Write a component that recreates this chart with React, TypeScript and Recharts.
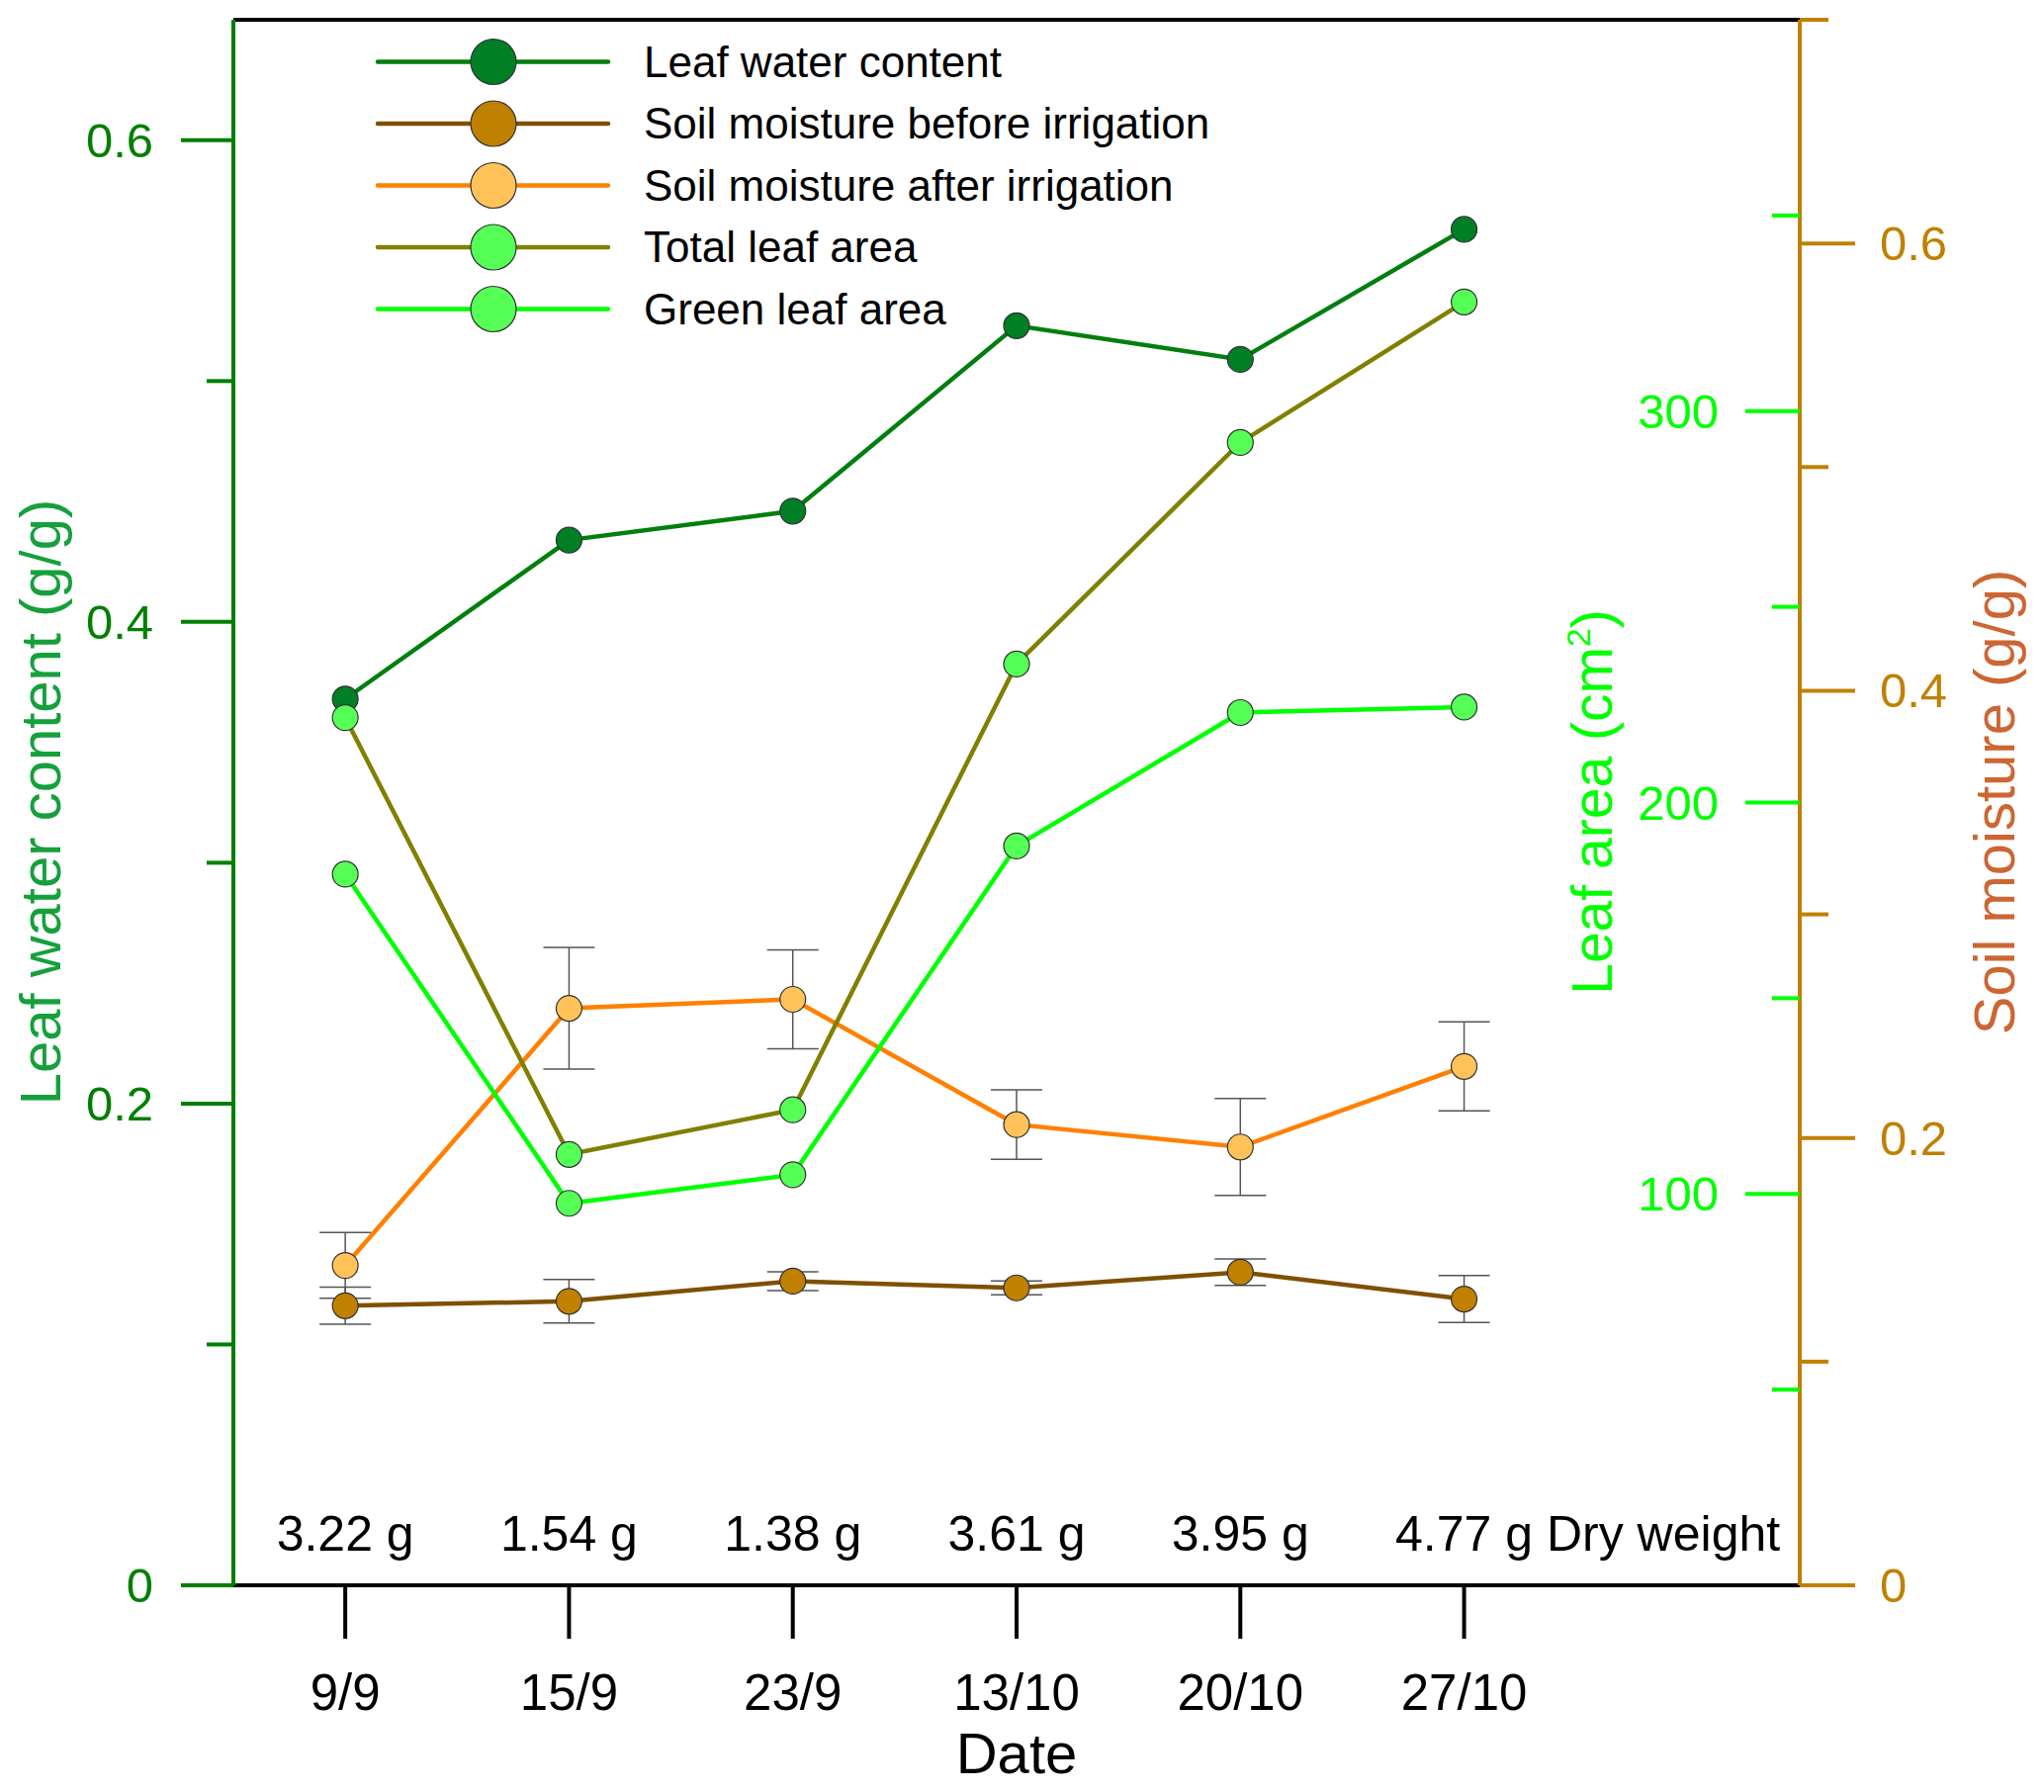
import React from "react";
import {
  LineChart,
  Line,
  XAxis,
  YAxis,
  ErrorBar,
  ReferenceLine,
  Legend,
} from "recharts";

// sampling dates and dry weight written above each date
const dates = ["9/9", "15/9", "23/9", "13/10", "20/10", "27/10"];
const dryWeight = ["3.22 g", "1.54 g", "1.38 g", "3.61 g", "3.95 g", "4.77 g"];

// leaf water content (g/g), left axis
const leafWater = [0.368, 0.434, 0.446, 0.523, 0.509, 0.563];

// soil moisture (g/g), right axis, with error
const soilBefore = [0.125, 0.127, 0.136, 0.133, 0.14, 0.128];
const soilBeforeErr = [0.0083, 0.0097, 0.0042, 0.0031, 0.0059, 0.0105];
const soilAfter = [0.143, 0.258, 0.262, 0.206, 0.196, 0.232];
const soilAfterErr = [0.0147, 0.0272, 0.0221, 0.0155, 0.0217, 0.0199];

// leaf area (cm2), inner right axis
const totalLeafArea = [221.7, 110.1, 121.5, 235.4, 292.0, 327.9];
const greenLeafArea = [181.7, 97.6, 104.9, 188.9, 223.0, 224.4];

// axis ticks
const leftTicks = [0, 0.1, 0.2, 0.3, 0.4, 0.5, 0.6];
const leftMajor = [0, 0.2, 0.4, 0.6];
const soilTicks = [0, 0.1, 0.2, 0.3, 0.4, 0.5, 0.6, 0.7];
const soilMajor = [0, 0.2, 0.4, 0.6];
const areaTicks = [50, 100, 150, 200, 250, 300, 350];
const areaMajor = [100, 200, 300];

const C_LEFT = "#007F00";
const C_LEFT_TITLE = "#16A03C";
const C_SOIL = "#C08000";
const C_SOIL_TITLE = "#CC6633";
const C_AREA = "#00FF00";
const FONT = "'Liberation Sans', Arial, sans-serif";
const LINE_W = 4.5;

const series = [
  { name: "Leaf water content", line: "#007F0E", fill: "#007F25" },
  { name: "Soil moisture before irrigation", line: "#7F5000", fill: "#C08000" },
  { name: "Soil moisture after irrigation", line: "#FF8000", fill: "#FFC35A" },
  { name: "Total leaf area", line: "#808000", fill: "#55FF55" },
  { name: "Green leaf area", line: "#00FF00", fill: "#55FF55" },
];

const rows = dates.map((d, i) => ({
  idx: i,
  lwc: leafWater[i],
  before: soilBefore[i],
  beforeErr: soilBeforeErr[i],
  after: soilAfter[i],
  afterErr: soilAfterErr[i],
  total: totalLeafArea[i],
  green: greenLeafArea[i],
}));

const dot = (fill: string) => ({ r: 13, fill, stroke: "#333", strokeWidth: 1.2 });

function DateTick(props: any) {
  const { x, y, payload } = props;
  const i = payload.value;
  const last = i === dates.length - 1;
  return (
    <g>
      <text x={x} y={y + 72} textAnchor="middle" fontSize={51} fill="#000">
        {dates[i]}
      </text>
      {last ? (
        <text x={x - 1.39 * 50} y={y - 89} textAnchor="start" fontSize={50} fill="#000">
          {dryWeight[i]} Dry weight
        </text>
      ) : (
        <text x={x} y={y - 89} textAnchor="middle" fontSize={50} fill="#000">
          {dryWeight[i]}
        </text>
      )}
    </g>
  );
}

function LeftTick(props: any) {
  const { x, y, payload } = props;
  const major = leftMajor.includes(payload.value);
  return (
    <g>
      <line x1={x - (major ? 53 : 27)} x2={x} y1={y} y2={y} stroke={C_LEFT} strokeWidth={4} />
      {major && (
        <text x={x - 81} y={y + 17} textAnchor="end" fontSize={49} fill={C_LEFT}>
          {String(payload.value)}
        </text>
      )}
    </g>
  );
}

function SoilTick(props: any) {
  const { x, y, payload } = props;
  const major = soilMajor.includes(payload.value);
  return (
    <g>
      <line x1={x} x2={x + (major ? 56 : 29)} y1={y} y2={y} stroke={C_SOIL} strokeWidth={4} />
      {major && (
        <text x={x + 81} y={y + 17} textAnchor="start" fontSize={49} fill={C_SOIL}>
          {String(payload.value)}
        </text>
      )}
    </g>
  );
}

function AreaTick(props: any) {
  const { x, y, payload } = props;
  const major = areaMajor.includes(payload.value);
  return (
    <g>
      <line x1={x - (major ? 55 : 28)} x2={x} y1={y} y2={y} stroke={C_AREA} strokeWidth={4} />
      {major && (
        <text x={x - 82} y={y + 17} textAnchor="end" fontSize={49} fill={C_AREA}>
          {String(payload.value)}
        </text>
      )}
    </g>
  );
}

function LegendBox() {
  return (
    <svg width={1000} height={320} style={{ fontFamily: FONT, display: "block", overflow: "visible" }}>
      {series.map((s, i) => {
        const cy = 32.5 + i * 62.5;
        return (
          <g key={s.name}>
            <line x1={12} x2={245} y1={cy} y2={cy} stroke={s.line} strokeWidth={LINE_W} strokeLinecap="round" />
            <circle cx={129} cy={cy} r={23} fill={s.fill} stroke="#333" strokeWidth={1.2} />
            <text x={281} y={cy + 15} fontSize={44} fill="#000">
              {s.name}
            </text>
          </g>
        );
      })}
    </svg>
  );
}

export default function App() {
  return (
    <div
      style={{
        position: "absolute",
        left: 0,
        top: 0,
        width: 2067,
        height: 1812,
        background: "#fff",
        fontFamily: FONT,
      }}
    >
      <LineChart
        width={2067}
        height={1812}
        data={rows}
        margin={{ top: 20, right: 0, bottom: 0, left: 0 }}
      >
        <XAxis
          dataKey="idx"
          type="number"
          domain={[-0.5, dates.length + 0.5]}
          ticks={[0, 1, 2, 3, 4, 5]}
          interval={0}
          height={209}
          tickSize={54}
          tickMargin={0}
          tickLine={{ stroke: "#000", strokeWidth: 4 }}
          axisLine={{ stroke: "#000", strokeWidth: 4 }}
          tick={(p: any) => <DateTick {...p} />}
          label={{
            content: () => (
              <text x={1028} y={1793} textAnchor="middle" fontSize={58} fill="#000">
                Date
              </text>
            ),
          }}
        />
        <YAxis
          yAxisId="lwc"
          orientation="left"
          width={236}
          domain={[0, 0.65]}
          ticks={leftTicks}
          interval={0}
          tickSize={0}
          tickMargin={0}
          tickLine={false}
          axisLine={{ stroke: C_LEFT, strokeWidth: 4 }}
          tick={(p: any) => <LeftTick {...p} />}
          label={{
            content: () => (
              <text
                transform="translate(61, 811) rotate(-90)"
                textAnchor="middle"
                fontSize={58}
                fill={C_LEFT_TITLE}
              >
                Leaf water content (g/g)
              </text>
            ),
          }}
        />
        <YAxis
          yAxisId="soil"
          orientation="right"
          width={247}
          domain={[0, 0.7]}
          ticks={soilTicks}
          interval={0}
          tickSize={0}
          tickMargin={0}
          tickLine={false}
          axisLine={{ stroke: C_SOIL, strokeWidth: 4 }}
          tick={(p: any) => <SoilTick {...p} />}
          label={{
            content: () => (
              <text
                transform="translate(2037, 811) rotate(-90)"
                textAnchor="middle"
                fontSize={58}
                fill={C_SOIL_TITLE}
              >
                Soil moisture (g/g)
              </text>
            ),
          }}
        />
        <YAxis
          yAxisId="area"
          orientation="right"
          mirror
          width={60}
          domain={[0, 400]}
          ticks={areaTicks}
          interval={0}
          tickSize={0}
          tickMargin={0}
          tickLine={false}
          axisLine={false}
          tick={(p: any) => <AreaTick {...p} />}
          label={{
            content: () => (
              <text
                transform="translate(1630, 811) rotate(-90)"
                textAnchor="middle"
                fontSize={57}
                fill={C_AREA}
              >
                Leaf area (cm
                <tspan fontSize={34} dy={-22}>
                  2
                </tspan>
                <tspan dy={22}>)</tspan>
              </text>
            ),
          }}
        />
        <ReferenceLine yAxisId="lwc" y={0.65} stroke="#000" strokeWidth={4} />

        <Line
          yAxisId="lwc"
          dataKey="lwc"
          type="linear"
          stroke={series[0].line}
          strokeWidth={LINE_W}
          dot={dot(series[0].fill)}
          activeDot={false}
          isAnimationActive={false}
        />
        <Line
          yAxisId="soil"
          dataKey="before"
          type="linear"
          stroke={series[1].line}
          strokeWidth={LINE_W}
          dot={dot(series[1].fill)}
          activeDot={false}
          isAnimationActive={false}
        />
        <Line
          yAxisId="soil"
          dataKey="before"
          stroke="none"
          dot={false}
          activeDot={false}
          legendType="none"
          isAnimationActive={false}
        >
          <ErrorBar dataKey="beforeErr" width={26} stroke="#555" strokeWidth={1.5} direction="y" isAnimationActive={false} />
        </Line>
        <Line
          yAxisId="soil"
          dataKey="after"
          type="linear"
          stroke={series[2].line}
          strokeWidth={LINE_W}
          dot={dot(series[2].fill)}
          activeDot={false}
          isAnimationActive={false}
        />
        <Line
          yAxisId="soil"
          dataKey="after"
          stroke="none"
          dot={false}
          activeDot={false}
          legendType="none"
          isAnimationActive={false}
        >
          <ErrorBar dataKey="afterErr" width={26} stroke="#555" strokeWidth={1.5} direction="y" isAnimationActive={false} />
        </Line>
        <Line
          yAxisId="area"
          dataKey="total"
          type="linear"
          stroke={series[3].line}
          strokeWidth={LINE_W}
          dot={dot(series[3].fill)}
          activeDot={false}
          isAnimationActive={false}
        />
        <Line
          yAxisId="area"
          dataKey="green"
          type="linear"
          stroke={series[4].line}
          strokeWidth={LINE_W}
          dot={dot(series[4].fill)}
          activeDot={false}
          isAnimationActive={false}
        />
        <Legend
          layout="vertical"
          align="center"
          verticalAlign="middle"
          wrapperStyle={{ left: 370, top: 30, width: 1000, height: 320 }}
          content={() => <LegendBox />}
        />
      </LineChart>
    </div>
  );
}
